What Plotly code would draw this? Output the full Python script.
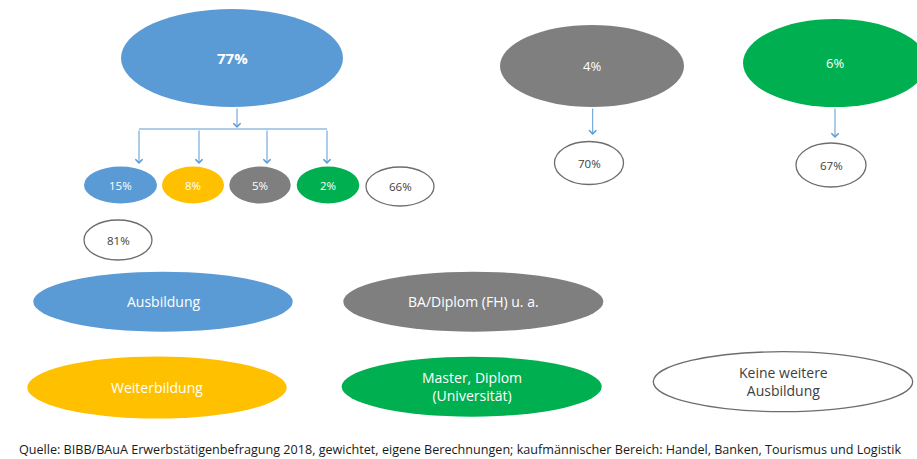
import plotly.graph_objects as go

# ---- data ----
top_groups = ["Ausbildung", "BA/Diplom (FH) u. a.", "Master, Diplom (Universität)"]
top_shares = [77, 4, 6]
sub_groups = ["Ausbildung", "Weiterbildung", "BA/Diplom (FH) u. a.", "Master, Diplom (Universität)", "Keine weitere Ausbildung"]
sub_shares = [15, 8, 5, 2, 66]
after_ausbildung_none = [81]
after_ba_none = [70]
after_master_none = [67]
legend_labels = ["Ausbildung", "BA/Diplom (FH) u. a.", "Weiterbildung", "Master, Diplom<br>(Universität)", "Keine weitere<br>Ausbildung"]
source_text = ("Quelle: BIBB/BAuA Erwerbstätigenbefragung 2018, gewichtet, eigene Berechnungen; "
               "kaufmännischer Bereich: Handel, Banken, Tourismus und Logistik")

BLUE, YELLOW, GRAY, GREEN = "#5B9BD5", "#FFC000", "#7F7F7F", "#00B050"
ARROW = "#5B9BD5"
DARK = "#404040"
FONT = "Open Sans"

fig = go.Figure()
shapes, annos = [], []

def ellipse(cx, cy, rx, ry, fill, text, tcolor="white", size=12, bold=False, border=None):
    shapes.append(dict(type="circle", xref="x", yref="y", x0=cx - rx, x1=cx + rx, y0=cy - ry, y1=cy + ry,
                       fillcolor=fill, line=dict(color=border if border else fill, width=1.3 if border else 0),
                       layer="above"))
    t = f"<b>{text}</b>" if bold else text
    annos.append(dict(x=cx, y=cy, xref="x", yref="y", text=t, showarrow=False,
                      font=dict(family=FONT, size=size, color=tcolor)))

def arrow(x, y0, y1):
    annos.append(dict(x=x, y=y1, ax=x, ay=y0, xref="x", yref="y", axref="x", ayref="y", text="",
                      showarrow=True, arrowhead=4, arrowsize=1.4, arrowwidth=1, arrowcolor=ARROW,
                      standoff=0, startstandoff=0))

# top ellipses
ellipse(232, 58, 111, 49, BLUE, f"{top_shares[0]}%", size=15, bold=True)
ellipse(592, 66, 92, 41, GRAY, f"{top_shares[1]}%", size=13)
ellipse(835, 63, 92, 44, GREEN, f"{top_shares[2]}%", size=13)

# connectors from big blue
arrow(237, 107, 128)
shapes.append(dict(type="line", xref="x", yref="y", x0=139, x1=327, y0=129, y1=129,
                   line=dict(color=ARROW, width=1)))
sub_x = [120.5, 193, 260, 328, 400]
for xa in [139, 199, 267, 327]:
    arrow(xa, 129, 164)

# sub ellipses
sub_cols = [BLUE, YELLOW, GRAY, GREEN]
sub_rx = [36.5, 31, 30.7, 31.3]
for i in range(4):
    ellipse(sub_x[i], 185, sub_rx[i], 18.5, sub_cols[i], f"{sub_shares[i]}%", size=11.5)
ellipse(sub_x[4], 186.5, 34, 19.5, "white", f"{sub_shares[4]}%", tcolor=DARK, size=11.5, border="#6d6d6d")
ellipse(118, 240, 34, 20, "white", f"{after_ausbildung_none[0]}%", tcolor=DARK, size=11.5, border="#6d6d6d")

# right side arrows + ellipses
arrow(592.7, 107, 135)
ellipse(589, 163, 34.5, 21.5, "white", f"{after_ba_none[0]}%", tcolor=DARK, size=11.5, border="#6d6d6d")
arrow(835, 107, 138)
ellipse(831, 165, 35, 22, "white", f"{after_master_none[0]}%", tcolor=DARK, size=11.5, border="#6d6d6d")

# legend ellipses
ellipse(163, 301.7, 129.7, 30, BLUE, legend_labels[0], size=14)
ellipse(473.3, 301.7, 130, 30, GRAY, legend_labels[1], size=14)
ellipse(157, 387.5, 129.7, 31, YELLOW, legend_labels[2], size=14)
ellipse(471.7, 386.7, 130, 30, GREEN, legend_labels[3], size=14)
ellipse(783, 381.7, 129.7, 30, "white", legend_labels[4], tcolor=DARK, size=14, border="#6d6d6d")

annos.append(dict(x=460, y=449, xref="x", yref="y", text=source_text, showarrow=False,
                  font=dict(family=FONT, size=12.6, color="#1a1a1a")))

fig.update_layout(
    width=917, height=459, margin=dict(l=0, r=0, t=0, b=0),
    paper_bgcolor="white", plot_bgcolor="white",
    xaxis=dict(range=[0, 917], visible=False, fixedrange=True),
    yaxis=dict(range=[459, 0], visible=False, fixedrange=True),
    shapes=shapes, annotations=annos, showlegend=False,
)
fig.write_html("out.html")
